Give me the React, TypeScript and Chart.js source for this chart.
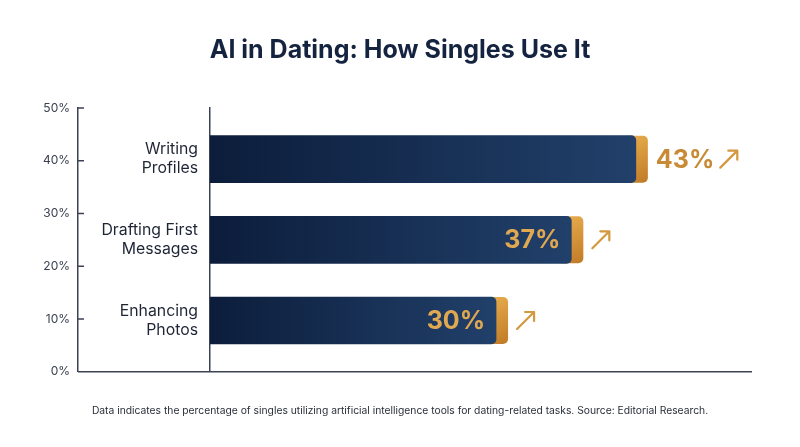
import { useEffect, useRef } from 'react';
import { Chart, registerables } from 'chart.js';

Chart.register(...registerables);

const TITLE = 'AI in Dating: How Singles Use It';
const NOTE =
  'Data indicates the percentage of singles utilizing artificial intelligence tools for dating-related tasks. Source: Editorial Research.';

const CATEGORIES = ['Writing Profiles', 'Drafting First Messages', 'Enhancing Photos'];
const CATEGORY_LINES = [['Writing', 'Profiles'], ['Drafting First', 'Messages'], ['Enhancing', 'Photos']];
const VALUES = [43, 37, 30];
const PCT_TICKS = [0, 10, 20, 30, 40, 50];

const NAVY_DARK = '#0c1d3b';
const NAVY_LIGHT = '#21406a';
const AXIS = '#3a4254';
const CAP_OUT = 12;

function drawArrow(ctx: CanvasRenderingContext2D, x: number, cy: number, size: number, color: string) {
  const top = cy - size / 2;
  ctx.save();
  ctx.strokeStyle = color;
  ctx.lineWidth = 2.2;
  ctx.lineCap = 'round';
  ctx.lineJoin = 'round';
  ctx.beginPath();
  ctx.moveTo(x, top + size);
  ctx.lineTo(x + size, top);
  ctx.moveTo(x + size - 9, top);
  ctx.lineTo(x + size, top);
  ctx.lineTo(x + size, top + 9);
  ctx.stroke();
  ctx.restore();
}

// gold end cap drawn behind each navy bar
const goldCaps = {
  id: 'goldCaps',
  beforeDatasetsDraw(chart: Chart) {
    const { ctx } = chart;
    chart.getDatasetMeta(0).data.forEach((bar: any) => {
      const { x, y, height } = bar;
      const top = y - height / 2;
      const g = ctx.createLinearGradient(x - 10, top, x + CAP_OUT, top + height);
      g.addColorStop(0, '#e8ae4e');
      g.addColorStop(1, '#c07a26');
      ctx.save();
      ctx.fillStyle = g;
      ctx.beginPath();
      ctx.roundRect(x - 10, top, 10 + CAP_OUT, height, [0, 5, 5, 0]);
      ctx.fill();
      ctx.restore();
    });
  },
};

const valueLabels = {
  id: 'valueLabels',
  afterDatasetsDraw(chart: Chart) {
    const { ctx } = chart;
    const maxVal = Math.max(...VALUES);
    chart.getDatasetMeta(0).data.forEach((bar: any, i: number) => {
      const { x, y } = bar;
      const capEnd = x + CAP_OUT;
      const label = `${VALUES[i]}%`;
      ctx.save();
      ctx.font = 'bold 25px Inter';
      ctx.textBaseline = 'middle';
      let arrowX;
      if (VALUES[i] === maxVal) {
        ctx.fillStyle = '#c98a35';
        ctx.textAlign = 'left';
        ctx.fillText(label, capEnd + 8, y + 1);
        arrowX = capEnd + 8 + ctx.measureText(label).width + 6;
      } else {
        ctx.fillStyle = '#e0a850';
        ctx.textAlign = 'right';
        ctx.fillText(label, x - 11, y + 1);
        arrowX = capEnd + 9;
      }
      ctx.restore();
      drawArrow(ctx, arrowX, y, 17, '#d4983f');
    });
  },
};

const axisExtras = {
  id: 'axisExtras',
  afterDraw(chart: Chart) {
    const { ctx, chartArea } = chart;
    const pct = chart.scales.pct;
    ctx.save();
    ctx.strokeStyle = AXIS;
    ctx.lineWidth = 1.5;
    ctx.beginPath();
    const y0 = pct.getPixelForValue(0);
    ctx.moveTo(pct.right, y0);
    ctx.lineTo(chartArea.right, y0);
    PCT_TICKS.forEach((t) => {
      const py = pct.getPixelForValue(t);
      ctx.moveTo(pct.right, py);
      ctx.lineTo(pct.right + 6, py);
    });
    ctx.stroke();
    ctx.restore();
  },
};

export default function App() {
  const ref = useRef<HTMLCanvasElement>(null);
  const chartRef = useRef<Chart | null>(null);

  useEffect(() => {
    if (!ref.current) return;
    if (chartRef.current) {
      chartRef.current.destroy();
      chartRef.current = null;
    }
    const ctx = ref.current.getContext('2d');
    if (!ctx) return;
    Chart.defaults.font.family = 'Inter';
    chartRef.current = new Chart(ctx, {
      type: 'bar',
      data: {
        datasets: [
          {
            label: 'Share of singles',
            data: VALUES.map((v, i) => ({ x: v, y: i + 1, name: CATEGORIES[i] })),
            barThickness: 47,
            borderRadius: 5,
            borderSkipped: 'start',
            backgroundColor: (c: any) => {
              const { chart } = c;
              const area = chart.chartArea;
              if (!area || c.type !== 'data') return NAVY_DARK;
              const end = chart.scales.x.getPixelForValue(VALUES[c.dataIndex]);
              const g = chart.ctx.createLinearGradient(area.left, 0, end, 0);
              g.addColorStop(0, NAVY_DARK);
              g.addColorStop(1, NAVY_LIGHT);
              return g;
            },
          },
        ],
      },
      options: {
        indexAxis: 'y',
        animation: false,
        responsive: true,
        maintainAspectRatio: false,
        layout: { padding: 0 },
        plugins: {
          legend: { display: false },
          tooltip: { enabled: false },
          title: {
            display: true,
            text: TITLE,
            color: '#14233f',
            font: { family: 'Inter', size: 25, weight: 'bold' },
            padding: { top: 35, bottom: 43 },
          },
          subtitle: {
            display: true,
            position: 'bottom',
            text: NOTE,
            color: '#2a2f3a',
            font: { family: 'Inter', size: 10.3 },
            padding: { top: 33, bottom: 30 },
          },
        },
        scales: {
          x: { type: 'linear', display: false, min: 3.4, max: 53.8 },
          y: {
            type: 'linear',
            position: 'left',
            weight: 0,
            offset: false,
            reverse: true,
            min: 0.366,
            max: 3.634,
            afterBuildTicks: (s: any) => {
              s.ticks = CATEGORIES.map((_, i) => ({ value: i + 1 }));
            },
            afterFit: (s: any) => {
              s.width = 132;
            },
            grid: { display: false, drawTicks: false, offset: false },
            border: { display: true, color: AXIS, width: 1.5 },
            ticks: {
              padding: 12,
              color: '#1e2535',
              font: { family: 'Inter', size: 15.8, lineHeight: 1.2 },
              callback: (v: any) => CATEGORY_LINES[Number(v) - 1],
            },
          },
          pct: {
            type: 'linear',
            position: 'left',
            axis: 'y',
            weight: 1,
            offset: false,
            min: 0,
            max: 50,
            afterBuildTicks: (s: any) => {
              s.ticks = PCT_TICKS.map((t) => ({ value: t }));
            },
            afterFit: (s: any) => {
              s.width = 78;
            },
            grid: { display: false, drawTicks: false, offset: false },
            border: { display: true, color: AXIS, width: 1.5 },
            ticks: {
              padding: 8,
              color: '#3a4050',
              font: { family: 'Inter', size: 12 },
              callback: (v: any) => `${v}%`,
            },
          },
          // empty right-hand gutter so the plot stops where the baseline ends
          gutter: {
            type: 'linear',
            position: 'right',
            axis: 'y',
            offset: false,
            afterFit: (s: any) => {
              s.width = 48;
            },
            grid: { display: false, drawTicks: false },
            border: { display: false },
            ticks: { display: false },
          },
        },
      },
      plugins: [goldCaps, valueLabels, axisExtras],
    } as any);
    return () => {
      chartRef.current?.destroy();
      chartRef.current = null;
    };
  }, []);

  return (
    <div style={{ position: 'fixed', left: 0, top: 0, width: 800, height: 447, background: '#fff' }}>
      <canvas ref={ref} />
    </div>
  );
}
